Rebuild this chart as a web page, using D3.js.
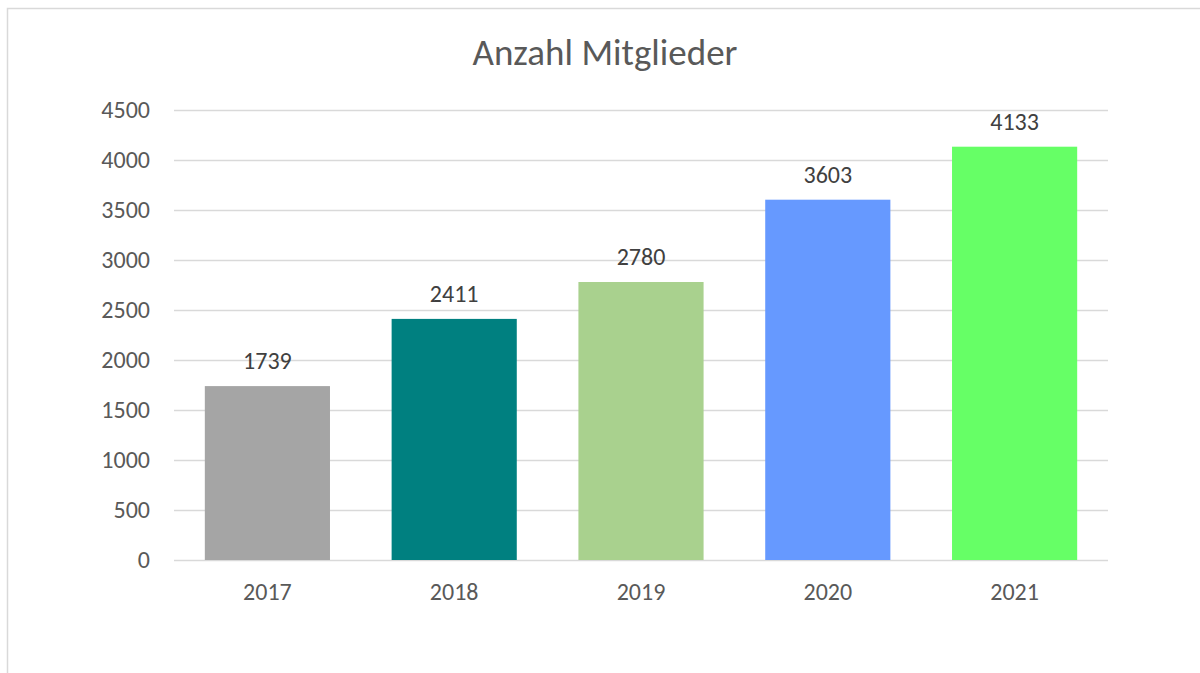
<!DOCTYPE html>
<html>
<head>
<meta charset="utf-8">
<script src="https://cdn.jsdelivr.net/npm/d3@7"></script>
<style>
  html, body { margin: 0; padding: 0; background: #fff; }
  svg { display: block; font-family: Carlito, Calibri, "Open Sans", sans-serif; }
</style>
</head>
<body>
<div id="chart"></div>
<script>
const years = ['2017', '2018', '2019', '2020', '2021'];
const members = [1739, 2411, 2780, 3603, 4133];
const barColors = ['#a5a5a5', '#008080', '#a9d18e', '#6699ff', '#66ff66'];
const yTicks = [0, 500, 1000, 1500, 2000, 2500, 3000, 3500, 4000, 4500];
const title = 'Anzahl Mitglieder';

(function () {
  const width = 1200;
  const height = 673;
  const margin = { top: 110, right: 92, bottom: 113, left: 174 };
  const innerWidth = width - margin.left - margin.right;
  const innerHeight = height - margin.top - margin.bottom;

  const svg = d3.select('#chart')
    .append('svg')
    .attr('width', width)
    .attr('height', height);

  // chart frame, runs off the right and bottom edges
  svg.append('rect')
    .attr('x', 7.5)
    .attr('y', 8.5)
    .attr('width', 1210)
    .attr('height', 700)
    .attr('fill', '#fff')
    .attr('stroke', '#d9d9d9')
    .attr('stroke-width', 1.5);

  svg.append('text')
    .attr('x', 605)
    .attr('y', 65)
    .attr('text-anchor', 'middle')
    .attr('fill', '#595959')
    .attr('font-size', 37)
    .text(title);

  const chart = svg.append('g')
    .attr('transform', `translate(${margin.left},${margin.top})`);

  const xScale = d3.scaleBand()
    .domain(years)
    .range([0, innerWidth])
    .paddingInner(0.33)
    .paddingOuter(0.165);

  const yScale = d3.scaleLinear()
    .domain([0, 4500])
    .range([innerHeight, 0]);

  chart.append('g')
    .attr('stroke', '#d9d9d9')
    .attr('stroke-width', 1.5)
    .selectAll('line')
    .data(yTicks)
    .join('line')
    .attr('x1', 0)
    .attr('x2', innerWidth)
    .attr('y1', (d) => Math.round(yScale(d)) + 0.5)
    .attr('y2', (d) => Math.round(yScale(d)) + 0.5);

  const yAxis = d3.axisLeft(yScale)
    .tickValues(yTicks)
    .tickSize(0)
    .tickPadding(24)
    .tickFormat(d3.format('d'));

  chart.append('g')
    .call(yAxis)
    .attr('font-family', null)
    .attr('font-size', 24)
    .call((g) => g.select('.domain').remove())
    .selectAll('text')
    .attr('fill', '#595959');

  const xAxis = d3.axisBottom(xScale)
    .tickSize(0)
    .tickPadding(23);

  chart.append('g')
    .attr('transform', `translate(0,${innerHeight})`)
    .call(xAxis)
    .attr('font-family', null)
    .attr('font-size', 24)
    .call((g) => g.select('.domain').remove())
    .selectAll('text')
    .attr('fill', '#595959');

  const rows = years.map((year, i) => ({ year, value: members[i], color: barColors[i] }));

  chart.selectAll('rect.bar')
    .data(rows)
    .join('rect')
    .attr('class', 'bar')
    .attr('x', (d) => xScale(d.year))
    .attr('y', (d) => yScale(d.value))
    .attr('width', xScale.bandwidth())
    .attr('height', (d) => innerHeight - yScale(d.value))
    .attr('fill', (d) => d.color);

  chart.selectAll('text.value')
    .data(rows)
    .join('text')
    .attr('class', 'value')
    .attr('x', (d) => xScale(d.year) + xScale.bandwidth() / 2)
    .attr('y', (d) => yScale(d.value) - 17)
    .attr('text-anchor', 'middle')
    .attr('fill', '#404040')
    .attr('font-size', 24)
    .text((d) => d.value);
})();
</script>
</body>
</html>
